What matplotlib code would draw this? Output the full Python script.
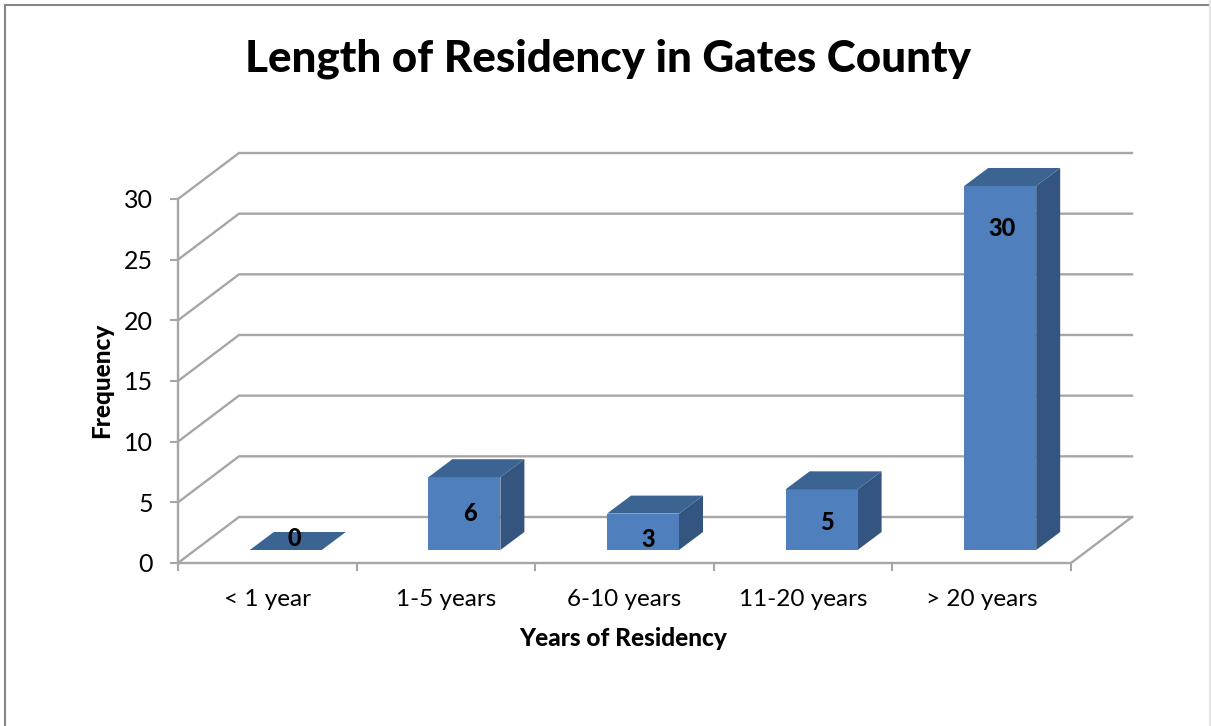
# bar chart of residency length, drawn with a 3D look from plain polygons
import matplotlib
matplotlib.use("Agg")
import matplotlib.pyplot as plt
from matplotlib.lines import Line2D

categories = ["< 1 year", "1-5 years", "6-10 years", "11-20 years", "> 20 years"]
frequency = [0, 6, 3, 5, 30]
y_ticks = [0, 5, 10, 15, 20, 25, 30]

title = "Length of Residency in Gates County"
x_label = "Years of Residency"
y_label = "Frequency"

plt.rcParams['font.family'] = ['Lato', 'DejaVu Sans']

GRID = "#a6a6a6"
FRONT = "#4f80bd"
TOP = "#3b6492"
SIDE = "#34557f"

fig = plt.figure(figsize=(12.11, 7.26), dpi=100)
W, H = 1211, 726
ax = fig.add_axes([178 / W, 1 - 563 / H, (1071 - 178) / W, (563 - 199) / H])
ax.set_xlim(0, 5)
ax.set_ylim(0, 30)
ax.patch.set_alpha(0)

# pixels per data unit, so depth can be worked out in data coordinates
px = (1071 - 178) / 5
py = (563 - 199) / 30
wall_dx, wall_dy = 61 / px, 46 / py
bar_dx, bar_dy = 18.5 / px, 13 / py
depth_x, depth_y = 24 / px, 18 / py
bar_w = 72 / px

# back wall gridlines with their slanted side wall part
for v in y_ticks:
    ax.plot([0, wall_dx, 5 + wall_dx], [v, v + wall_dy, v + wall_dy],
            color=GRID, lw=1.7, clip_on=False, zorder=1, solid_joinstyle='miter')
ax.plot([5, 5 + wall_dx], [0, wall_dy], color=GRID, lw=1.7, clip_on=False, zorder=1)

# bars: front face, top face and right side
label_offsets = [(9, 12), (6, -36), (5, -26), (5, -33), (2, -43)]
for i, val in enumerate(frequency):
    left = i + 0.5 - bar_w / 2 + bar_dx
    right = left + bar_w
    base = bar_dy
    top = base + val
    ax.fill([right, right + depth_x, right + depth_x, right],
            [base, base + depth_y, top + depth_y, top],
            color=SIDE, lw=0, clip_on=False, zorder=3)
    ax.bar(left, val, width=bar_w, bottom=base, align='edge', color=FRONT, lw=0,
           zorder=3, clip_on=False)
    ax.fill([left, right, right + depth_x, left + depth_x],
            [top, top, top + depth_y, top + depth_y],
            color=TOP, lw=0, clip_on=False, zorder=4)
    # the tallest bar's top sits above ylim, so the annotation must not be clipped
    ax.annotate(str(val), (left + bar_w / 2, top), xytext=label_offsets[i],
                textcoords='offset pixels', ha='center', va='center',
                fontsize=17, fontweight='black', color='black', zorder=5,
                annotation_clip=False)

ax.set_xlim(0, 5)
ax.set_ylim(0, 30)

for s in ('top', 'right'):
    ax.spines[s].set_visible(False)
for s in ('left', 'bottom'):
    ax.spines[s].set_color(GRID)
    ax.spines[s].set_linewidth(1.7)
    ax.spines[s].set_zorder(2)

ax.set_yticks(y_ticks)
ax.set_xticks(range(6))
ax.set_xticklabels([])
ax.set_xticks([i + 0.5 for i in range(5)], minor=True)
ax.set_xticklabels(categories, minor=True)
ax.tick_params(axis='x', which='major', direction='out', length=6, width=1.5, color=GRID)
ax.tick_params(axis='x', which='minor', length=0, pad=19, labelsize=17.5)
ax.tick_params(axis='y', direction='out', length=6, width=1.5, color=GRID, pad=12, labelsize=18)

fig.text(608 / W, 1 - 59 / H, title, ha='center', va='center', fontsize=31.7, fontweight='black')
fig.text(623.5 / W, 1 - 639 / H, x_label, ha='center', va='center', fontsize=17.6, fontweight='black')
fig.text(102 / W, 1 - 380 / H, y_label, ha='center', va='center', rotation=90,
         fontsize=17.6, fontweight='black')

# outer chart frame
frame = [([5 / W, 5 / W], [0, 1 - 5 / H], "#868686", 1.5),
         ([5 / W, 1], [1 - 5 / H, 1 - 5 / H], "#868686", 1.5),
         ([1210 / W, 1210 / W], [0, 1], "#e6e6e6", 1.5)]
for xs, ys, c, lw in frame:
    fig.add_artist(Line2D(xs, ys, color=c, lw=lw, transform=fig.transFigure))

fig.savefig("out.png", dpi=100, facecolor='white')
